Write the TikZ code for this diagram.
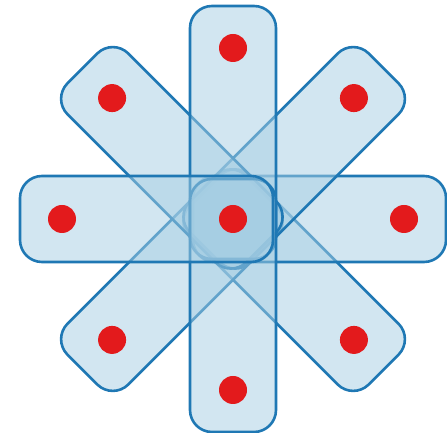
\documentclass[tikz,border=0pt]{standalone}
\usetikzlibrary{calc}
\definecolor{barline}{HTML}{1F78B4}
\definecolor{barfill}{HTML}{A6CEE3}
\definecolor{dotred}{HTML}{E31A1C}
\begin{document}
\begin{tikzpicture}[x=1pt,y=1pt,
  bar/.style={draw=barline, fill=barfill, fill opacity=0.5, line width=2.6pt,
    rounded corners=22pt, inner sep=0pt, outer sep=0pt,
    minimum width=253pt, minimum height=86pt, shape=rectangle},
  dot/.style={circle, fill=dotred, inner sep=0pt, minimum size=28pt}]
\useasboundingbox (0,0) rectangle (447,433);
\coordinate (C) at (233,214);
\foreach \a/\n in {315/SE,225/SW,0/E,45/NE,135/NW,90/N,270/S,180/W}{
  \node[bar, rotate=\a] (bar\n) at ($(C)+(\a:86.5)$) {};
}
\foreach \a/\n in {0/E,45/NE,90/N,135/NW,180/W,225/SW,270/S,315/SE}{
  \node[dot] (dot\n) at ($(C)+(\a:171)$) {};
}
\node[dot] (dotC) at (C) {};
\end{tikzpicture}
\end{document}
